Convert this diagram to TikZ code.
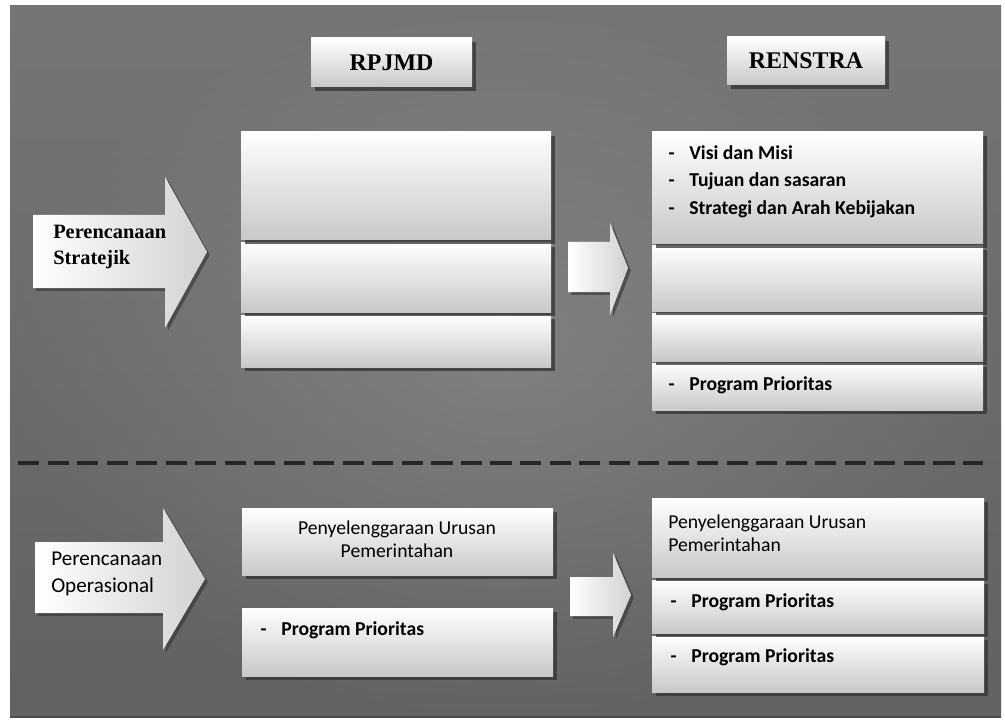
\documentclass[tikz,border=0pt]{standalone}
\usepackage{fontspec}
\setmainfont{Liberation Serif}
\newfontfamily\calibri{Carlito}
\usetikzlibrary{shadows,positioning}

\definecolor{bgdark}{RGB}{98,98,98}
\definecolor{bglight}{RGB}{138,138,138}
\definecolor{boxlow}{RGB}{200,200,200}

\tikzset{
  panel/.style={top color=white, bottom color=boxlow,
    drop shadow={shadow xshift=2.5pt, shadow yshift=-2.5pt, opacity=.75, fill=black!80}},
  bigarrow/.style={left color=white, right color=gray!35,
    drop shadow={shadow xshift=2pt, shadow yshift=-2pt, opacity=.6, fill=black!80}},
  headtxt/.style={font=\bfseries\fontsize{17}{20}\selectfont, inner sep=0pt},
  sidetxt/.style={anchor=west, align=left, inner sep=0pt},
  itemtxt/.style={anchor=west, inner sep=0pt, font=\calibri\bfseries\fontsize{14}{16}\selectfont},
  bullet/.style={anchor=base east, inner sep=0pt, font=\calibri\bfseries\fontsize{14}{16}\selectfont},
  divider/.style={line width=3pt, dash pattern=on 15pt off 6pt, black!85}
}

\begin{document}
\begin{tikzpicture}[x=0.025cm,y=-0.025cm]
\useasboundingbox (0,0) rectangle (1005,721);
% background
\path[top color=bglight, bottom color=bgdark] (10,6) rectangle (1001,717);
\path[shading=radial, inner color=bglight, outer color=bgdark, opacity=.5] (10,6) rectangle (1001,717);
\draw[black!70, line width=1.5pt] (10,717) -- (1001,717);

% headings
\path[panel] (311,38) rectangle (472,87);
\node[headtxt] (rpjmd) at (391.5,63) {RPJMD};
\path[panel] (727,37) rectangle (885,85);
\node[headtxt] (renstra) at (806,61) {RENSTRA};

% strategic part
\path[bigarrow] (33,215) -- (165,215) -- (165,177) -- (207,252) -- (165,328)
  -- (165,288) -- (33,288) -- cycle;
\node[sidetxt, font=\bfseries\fontsize{14.5}{19}\selectfont] (strat) at (53,247) {Perencanaan\\Stratejik};

\path[panel] (241,315) rectangle (551,367);
\path[panel] (241,243) rectangle (551,312);
\path[panel] (241,132) rectangle (551,240);

\path[bigarrow] (568,242) -- (610,242) -- (610,223) -- (628,268) -- (610,315)
  -- (610,292) -- (568,292) -- cycle;

\path[panel] (652,363) rectangle (983,410);
\path[panel] (652,313) rectangle (983,361);
\path[panel] (652,246) rectangle (983,311);
\path[panel] (652,132) rectangle (983,244);

\node[itemtxt] (visi) at (689,153) {Visi dan Misi};
\node[itemtxt] (tujuan) at (689,181) {Tujuan dan sasaran};
\node[itemtxt] (arah) at (689,209) {Strategi dan Arah Kebijakan};
\node[itemtxt] (progA) at (689,385) {Program Prioritas};
\foreach \n in {visi,tujuan,arah,progA}
  \node[bullet] at ([xshift=-10pt]\n.base west) {-};

% divider
\coordinate (dl) at (18,463);
\coordinate (dr) at (983,463);
\draw[divider] (dl) -- (dr);

% operational part
\path[bigarrow] (35,542) -- (163,542) -- (163,508) -- (205,579) -- (163,650)
  -- (163,613) -- (35,613) -- cycle;
\node[sidetxt, font=\calibri\fontsize{15}{19}\selectfont] (oper) at (51,574) {Perencanaan\\Operasional};

\path[panel] (242,608) rectangle (553,676);
\path[panel] (242,508) rectangle (553,575);
\node[align=center, inner sep=0pt, font=\calibri\fontsize{14}{16}\selectfont] (urusanA) at (397,539) {Penyelenggaraan Urusan\\Pemerintahan};
\node[itemtxt] (progB) at (281,630) {Program Prioritas};
\node[bullet] at ([xshift=-10pt]progB.base west) {-};

\path[bigarrow] (570,577) -- (613,577) -- (613,553) -- (631,595) -- (613,637)
  -- (613,616) -- (570,616) -- cycle;

\path[panel] (652,636) rectangle (984,692);
\path[panel] (652,580) rectangle (984,633);
\path[panel] (652,498) rectangle (984,577);
\node[sidetxt, font=\calibri\fontsize{14}{16}\selectfont] (urusanB) at (668,533) {Penyelenggaraan Urusan\\Pemerintahan};
\node[itemtxt] (progC) at (691,602) {Program Prioritas};
\node[itemtxt] (progD) at (691,657) {Program Prioritas};
\foreach \n in {progC,progD}
  \node[bullet] at ([xshift=-10pt]\n.base west) {-};
\end{tikzpicture}
\end{document}
